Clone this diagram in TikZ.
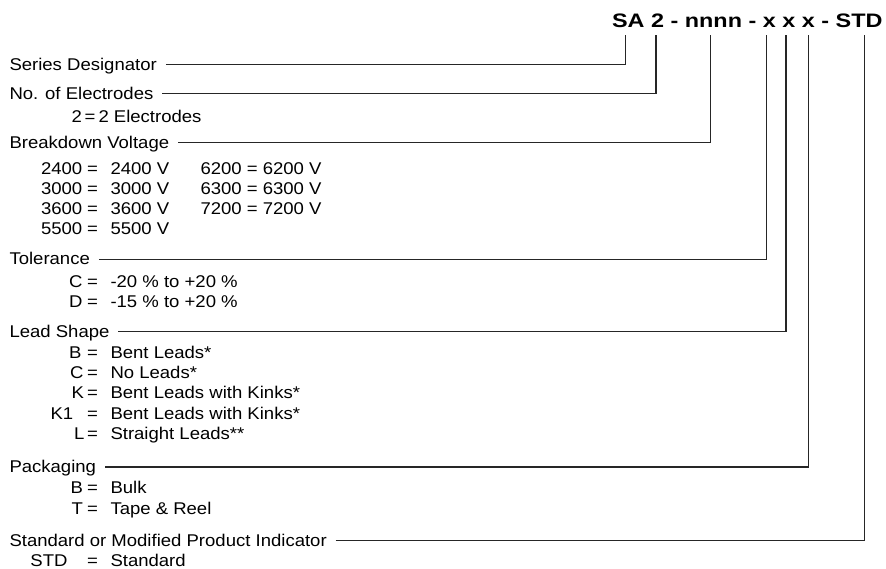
\documentclass[tikz,border=0pt]{standalone}
\usepackage{fontspec}
\setmainfont{Liberation Sans}[FakeStretch=1.09]
\newfontfamily\hdrfamily{Liberation Sans}[FakeStretch=1.2]
\newcommand\bodyfnt{\fontsize{17}{20}\selectfont}
\newcommand\hdrfnt{\hdrfamily\bfseries\fontsize{19.5}{24}\selectfont}
\newcommand\coderow[5]{%
  \node[lbl] (#1c) at (#3,#2) {#4};
  \node[lbl] (#1e) at (87,#2) {=};
  \node[lbl] (#1v) at (110.5,#2) {#5};}
\begin{document}
\begin{tikzpicture}[x=1pt,y=-1pt,
  every node/.style={inner sep=0pt,outer sep=0pt},
  lbl/.style={anchor=base west,font=\bodyfnt},
  conn/.style={line width=1.1pt,black!85}]
\useasboundingbox (0,0) rectangle (886,568);
% header
\node[anchor=base east,font=\hdrfnt] (hdr) at (882.5,27) {SA 2 - nnnn - x x x - STD};
\coordinate (t1) at (625.7,35);
\coordinate (t2) at (656,35);
\coordinate (t3) at (710.7,35);
\coordinate (t4) at (766.9,35);
\coordinate (t5) at (786,35);
\coordinate (t6) at (808.3,35);
\coordinate (t7) at (864.5,35);
% headings
\node[lbl] (sd) at (9.5,70.5) {Series Designator};
\node[lbl] (ne) at (9.5,99) {No. of Electrodes};
\node[lbl] (bv) at (9.5,148) {Breakdown Voltage};
\node[lbl] (tol) at (9.5,264.5) {Tolerance};
\node[lbl] (ls) at (9.5,337) {Lead Shape};
\node[lbl] (pk) at (9.5,472.5) {Packaging};
\node[lbl] (sm) at (9.5,546) {Standard or Modified Product Indicator};
% connectors
\draw[conn] ([xshift=9pt,yshift=5.7pt]sd.base east) -| (t1);
\draw[conn] ([xshift=9pt,yshift=5.7pt]ne.base east) -| (t2);
\draw[conn] ([xshift=9pt,yshift=5.7pt]bv.base east) -| (t3);
\draw[conn] ([xshift=9pt,yshift=5.2pt]tol.base east) -| (t4);
\draw[conn] ([xshift=9pt,yshift=5.7pt]ls.base east) -| (t5);
\draw[conn] ([xshift=9pt,yshift=5.5pt]pk.base east) -| (t6);
\draw[conn] ([xshift=9pt,yshift=5.8pt]sm.base east) -| (t7);
% electrodes
\node[lbl] (nec) at (71.5,122) {2};
\node[lbl] (nee) at (84.5,122) {=};
\node[lbl] (nev) at (98.5,122) {2 Electrodes};
% breakdown voltage
\coderow{bvA}{174}{41}{2400}{2400 V}
\coderow{bvB}{194}{41}{3000}{3000 V}
\coderow{bvC}{214}{41}{3600}{3600 V}
\coderow{bvD}{234.5}{41}{5500}{5500 V}
\node[lbl] (bvE) at (200.5,174) {6200 = 6200 V};
\node[lbl] (bvF) at (200.5,194) {6300 = 6300 V};
\node[lbl] (bvG) at (200.5,214) {7200 = 7200 V};
% tolerance
\coderow{toA}{287.7}{69}{C}{-20 \% to +20 \%}
\coderow{toB}{307.3}{69}{D}{-15 \% to +20 \%}
% lead shape
\coderow{lsA}{358.3}{69}{B}{Bent Leads*}
\coderow{lsB}{378.3}{70}{C}{No Leads*}
\coderow{lsC}{398.3}{71.5}{K}{Bent Leads with Kinks*}
\coderow{lsD}{419}{50.5}{K1}{Bent Leads with Kinks*}
\coderow{lsE}{439}{74}{L}{Straight Leads**}
% packaging
\coderow{pkA}{493.3}{70.5}{B}{Bulk}
\coderow{pkB}{514}{71.5}{T}{Tape \& Reel}
% standard
\coderow{smA}{566}{30.5}{STD}{Standard}
\end{tikzpicture}
\end{document}
